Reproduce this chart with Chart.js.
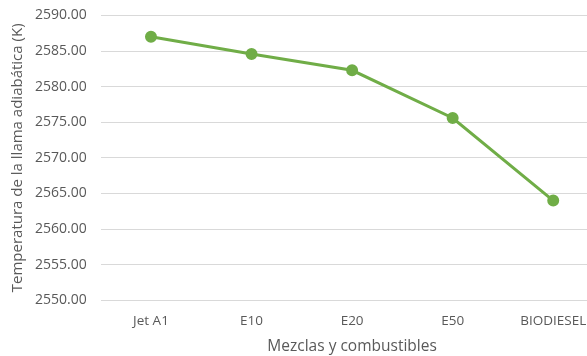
<!DOCTYPE html>
<html>
<head>
<meta charset="utf-8">
<script src="https://cdn.jsdelivr.net/npm/chart.js@4/dist/chart.umd.min.js"></script>
<style>
html,body{margin:0;padding:0;background:#fff;overflow:hidden;width:587px;height:356px;}
#wrap{position:absolute;left:0;top:0;width:611px;height:356px;}
</style>
</head>
<body>
<div id="wrap"><canvas id="c" width="611" height="356"></canvas></div>
<script>
const categories = ["Jet A1", "E10", "E20", "E50", "BIODIESEL"];
const temperatures = [2587.0, 2584.6, 2582.3, 2575.6, 2564.0];
const yTitle = "Temperatura de la llama adiabática (K)";
const xTitle = "Mezclas y combustibles";
const yMin = 2550, yMax = 2590, yStep = 5;

const gray = "#595959";
new Chart(document.getElementById("c"), {
  type: "line",
  data: {
    labels: categories,
    datasets: [{
      data: temperatures,
      borderColor: "#70AD47",
      backgroundColor: "#70AD47",
      borderWidth: 3,
      pointRadius: 4.5,
      pointHoverRadius: 4.5,
      pointBackgroundColor: "#70AD47",
      pointBorderColor: "#70AD47",
      tension: 0,
      fill: false
    }]
  },
  options: {
    responsive: false,
    animation: false,
    devicePixelRatio: 1,
    layout: { padding: { top: 15.5, right: 1, bottom: 0, left: 9 } },
    plugins: { legend: { display: false }, tooltip: { enabled: false } },
    scales: {
      x: {
        offset: true,
        grid: { display: false, drawTicks: false },
        border: { display: false },
        ticks: { color: gray, font: { family: "Open Sans", size: 13.5 }, padding: 13, maxRotation: 0, autoSkip: false },
        title: { display: true, text: xTitle, color: gray, font: { family: "Open Sans", size: 15.5 }, padding: { top: -5, bottom: 0 } }
      },
      y: {
        min: yMin, max: yMax,
        afterFit: s => { s.paddingTop = 0; s.paddingBottom = 0; },
        grid: { color: "#d9d9d9", lineWidth: 1, drawTicks: false },
        border: { display: false },
        ticks: { stepSize: yStep, color: gray, font: { family: "Open Sans", size: 14 }, padding: 14, callback: v => Number(v).toFixed(2) },
        title: { display: true, text: yTitle, color: gray, font: { family: "Open Sans", size: 15 }, padding: { top: 0, bottom: -6 } }
      }
    }
  }
});
</script>
</body>
</html>
